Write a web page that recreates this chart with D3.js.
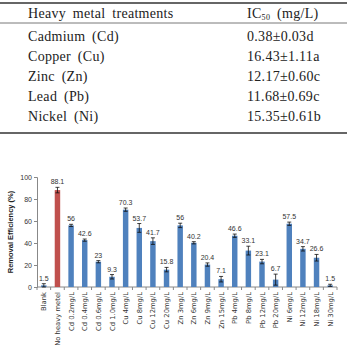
<!DOCTYPE html>
<html><head><meta charset="utf-8">
<script src="https://cdn.jsdelivr.net/npm/d3@7"></script>
<style>body{margin:0;background:#fff}svg{display:block}</style>
</head><body>
<svg id="c" width="347" height="351"></svg>
<script>
const tableMetals = ["Cadmium (Cd)","Copper (Cu)","Zinc (Zn)","Lead (Pb)","Nickel (Ni)"];
const tableIC50 = ["0.38±0.03d","16.43±1.11a","12.17±0.60c","11.68±0.69c","15.35±0.61b"];
const categories = ["Blank","No heavy metel","Cd 0.2mg/L","Cd 0.4mg/L","Cd 0.6mg/L","Cd 1.0mg/L",
 "Cu 4mg/L","Cu 8mg/L","Cu 12mg/L","Cu 20mg/L","Zn 3mg/L","Zn 6mg/L","Zn 9mg/L","Zn 15mg/L",
 "Pb 4mg/L","Pb 8mg/L","Pb 12mg/L","Pb 20mg/L","Ni 6mg/L","Ni 12mg/L","Ni 18mg/L","Ni 30mg/L"];
const values = [1.5,88.1,56,42.6,23,9.3,70.3,53.7,41.7,15.8,56,40.2,20.4,7.1,46.6,33.1,23.1,6.7,57.5,34.7,26.6,1.5];
const errors = [1.5,2.5,1,1,1,2,1.5,4,3,2,2,1,1.5,2.5,1.5,4,2,5,1.5,2,3,1];
const yTicks = [0,20,40,60,80,100];

const svg = d3.select("#c");
// table
const tg = svg.append("g").attr("font-family","'Liberation Serif', serif").attr("font-size",14).attr("fill","#222").attr("letter-spacing",0.3);
tg.append("line").attr("x1",0).attr("x2",347).attr("y1",3).attr("y2",3).attr("stroke","#333").attr("stroke-width",1.5);
tg.append("line").attr("x1",0).attr("x2",347).attr("y1",23).attr("y2",23).attr("stroke","#555").attr("stroke-width",0.8);
tg.append("line").attr("x1",0).attr("x2",347).attr("y1",133).attr("y2",133).attr("stroke","#333").attr("stroke-width",1.5);
tg.append("text").attr("x",28).attr("y",17.5).attr("word-spacing",3).text("Heavy metal treatments");
const h = tg.append("text").attr("x",247).attr("y",17.5).attr("word-spacing",3);
h.append("tspan").text("IC");
h.append("tspan").attr("font-size",8).attr("dy",2).text("50");
h.append("tspan").attr("dy",-2).text(" (mg/L)");
tableMetals.forEach((m,i)=>{
  const y = 40.5 + i*20;
  tg.append("text").attr("x",28).attr("y",y).attr("word-spacing",3).text(m);
  tg.append("text").attr("x",247).attr("y",y).text(tableIC50[i]);
});

// chart
const x = d3.scaleBand().domain(categories).range([37,337]).paddingInner(0.6).paddingOuter(0.3);
const y = d3.scaleLinear().domain([0,100]).range([287,177]);
const cg = svg.append("g").attr("font-family","'Liberation Sans', Arial, sans-serif");

const yAxis = cg.append("g").attr("transform","translate(37,0)")
  .call(d3.axisLeft(y).tickValues(yTicks).tickSize(3).tickPadding(2));
yAxis.selectAll("text").attr("font-size",7).attr("fill","#333");
yAxis.selectAll("line,path").attr("stroke","#888");

const step = x.step();
const xAxis = cg.append("g");
xAxis.append("line").attr("x1",37).attr("x2",337).attr("y1",y(0)).attr("y2",y(0)).attr("stroke","#888");
categories.forEach((c,i)=>{
  const bx = x(c) - (step - x.bandwidth())/2;
  xAxis.append("line").attr("x1",bx).attr("x2",bx).attr("y1",y(0)).attr("y2",y(0)+3).attr("stroke","#888");
});
xAxis.append("line").attr("x1",337).attr("x2",337).attr("y1",y(0)).attr("y2",y(0)+3).attr("stroke","#888");
xAxis.selectAll("text.xl").data(categories).join("text").attr("class","xl")
  .attr("transform",d=>`translate(${x(d)+x.bandwidth()/2+2.5},${y(0)+5}) rotate(-90)`)
  .attr("text-anchor","end").attr("font-family","'DejaVu Sans', sans-serif").attr("font-size",6.8).attr("fill","#333").text(d=>d);

cg.selectAll("rect.bar").data(values).join("rect").attr("class","bar")
  .attr("x",(d,i)=>x(categories[i])).attr("width",x.bandwidth())
  .attr("y",d=>y(d)).attr("height",d=>y(0)-y(d))
  .attr("fill",(d,i)=>i===1?"#C0504D":"#4F81BD");

const eg = cg.append("g").attr("stroke","#111").attr("stroke-width",0.8);
values.forEach((v,i)=>{
  const cx = x(categories[i])+x.bandwidth()/2;
  const e = errors[i];
  eg.append("line").attr("x1",cx).attr("x2",cx).attr("y1",y(v-e)).attr("y2",y(v+e));
  eg.append("line").attr("x1",cx-2).attr("x2",cx+2).attr("y1",y(v-e)).attr("y2",y(v-e));
  eg.append("line").attr("x1",cx-2).attr("x2",cx+2).attr("y1",y(v+e)).attr("y2",y(v+e));
});
cg.selectAll("text.vl").data(values).join("text").attr("class","vl")
  .attr("x",(d,i)=>x(categories[i])+x.bandwidth()/2)
  .attr("y",(d,i)=>y(d+errors[i])-3)
  .attr("text-anchor","middle").attr("font-size",7).attr("fill","#333").text(d=>d);

cg.append("text").attr("transform",`translate(13,${y(50)}) rotate(-90)`)
  .attr("text-anchor","middle").attr("font-size",7.5).attr("font-weight","bold").attr("fill","#222")
  .text("Removal Efficiency (%)");
</script>
</body></html>
